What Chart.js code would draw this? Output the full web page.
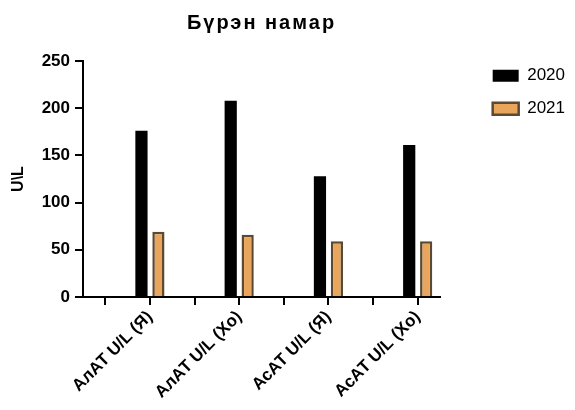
<!DOCTYPE html>
<html>
<head>
<meta charset="utf-8">
<script src="https://cdn.jsdelivr.net/npm/chart.js@4"></script>
<style>
  html, body { margin: 0; padding: 0; background: #fff; }
  #wrap { width: 575px; height: 410px; }
</style>
</head>
<body>
<div id="wrap"><canvas id="c" width="575" height="410"></canvas></div>
<script>
const categories = ['АлАТ U/L (Я)', 'АлАТ U/L (Хо)', 'АсАТ U/L (Я)', 'АсАТ U/L (Хо)'];
const values2020 = [176, 208, 128, 161];
const values2021 = [69, 66, 59, 59];
const yTicks = [0, 50, 100, 150, 200, 250];

// Each test is preceded by an empty slot, so the axis gets a tick between groups
const slots = categories.flatMap(c => ['', c]);
const spread = arr => arr.flatMap(v => [null, v]);

const FONT = "'Liberation Sans', Arial, sans-serif";
Chart.defaults.font.family = FONT;
Chart.defaults.color = '#000';

function axisGrid() {
  return {
    display: true,
    offset: false,
    drawOnChartArea: false,
    drawTicks: true,
    color: '#000',
    lineWidth: 2,
    tickColor: '#000',
    tickWidth: 2,
    tickLength: 8
  };
}
function axisBorder() {
  return { display: true, color: '#000', width: 2 };
}

// Keep the legend against the right edge of the canvas, clear of the plot
const legendToEdge = {
  id: 'legendToEdge',
  afterLayout(chart) {
    const lg = chart.legend;
    if (!lg) return;
    const w = lg.width;
    lg.left = chart.width - w;
    lg.right = chart.width;
  }
};

// Slightly tracked-out lettering for the chart title
const titleTracking = {
  id: 'titleTracking',
  beforeDraw(chart) {
    const t = chart.titleBlock;
    if (!t || t._tracked) return;
    const draw = t.draw.bind(t);
    t.draw = function () {
      const ctx = this.ctx;
      ctx.save();
      if ('letterSpacing' in ctx) ctx.letterSpacing = '2px';
      draw();
      ctx.restore();
    };
    t._tracked = true;
  }
};

new Chart(document.getElementById('c'), {
  type: 'bar',
  plugins: [legendToEdge, titleTracking],
  data: {
    labels: slots,
    datasets: [
      {
        label: '2020',
        data: spread(values2020),
        backgroundColor: '#000000',
        borderWidth: 0,
        barPercentage: 0.72,
        categoryPercentage: 0.76
      },
      {
        label: '2021',
        data: spread(values2021),
        backgroundColor: '#E9A55C',
        borderColor: '#5B4A33',
        borderWidth: 2.5,
        barPercentage: 0.72,
        categoryPercentage: 0.76
      }
    ]
  },
  options: {
    responsive: false,
    animation: false,
    devicePixelRatio: 1,
    plugins: {
      title: {
        display: true,
        text: 'Бүрэн намар',
        fullSize: false,
        color: '#000',
        font: { size: 20, weight: 'bold' },
        padding: { top: 11, bottom: 26 }
      },
      legend: {
        position: 'right',
        align: 'start',
        title: { display: true, text: ' ', font: { size: 16 }, padding: { top: 16, bottom: 16 } },
        labels: {
          boxWidth: 26,
          boxHeight: 12,
          padding: 16,
          color: '#000',
          font: { size: 17 }
        }
      },
      tooltip: { enabled: false }
    },
    scales: {
      x: {
        type: 'category',
        grid: axisGrid(),
        border: axisBorder(),
        ticks: {
          autoSkip: false,
          minRotation: 45,
          maxRotation: 45,
          padding: 2,
          color: '#000',
          font: { size: 17, weight: 'bold' }
        },
        afterFit: s => { s.height = 113; s.paddingRight = 135; }
      },
      y: {
        min: 0,
        max: 250,
        grid: axisGrid(),
        border: axisBorder(),
        afterBuildTicks: s => { s.ticks = yTicks.map(v => ({ value: v })); },
        ticks: {
          padding: 5,
          color: '#000',
          font: { size: 17, weight: 'bold' }
        },
        title: {
          display: true,
          text: 'U\\L',
          color: '#000',
          font: { size: 16, weight: 'bold' },
          padding: { top: 9, bottom: 4 }
        },
        afterFit: s => { s.width = 83; }
      }
    }
  }
});
</script>
</body>
</html>
